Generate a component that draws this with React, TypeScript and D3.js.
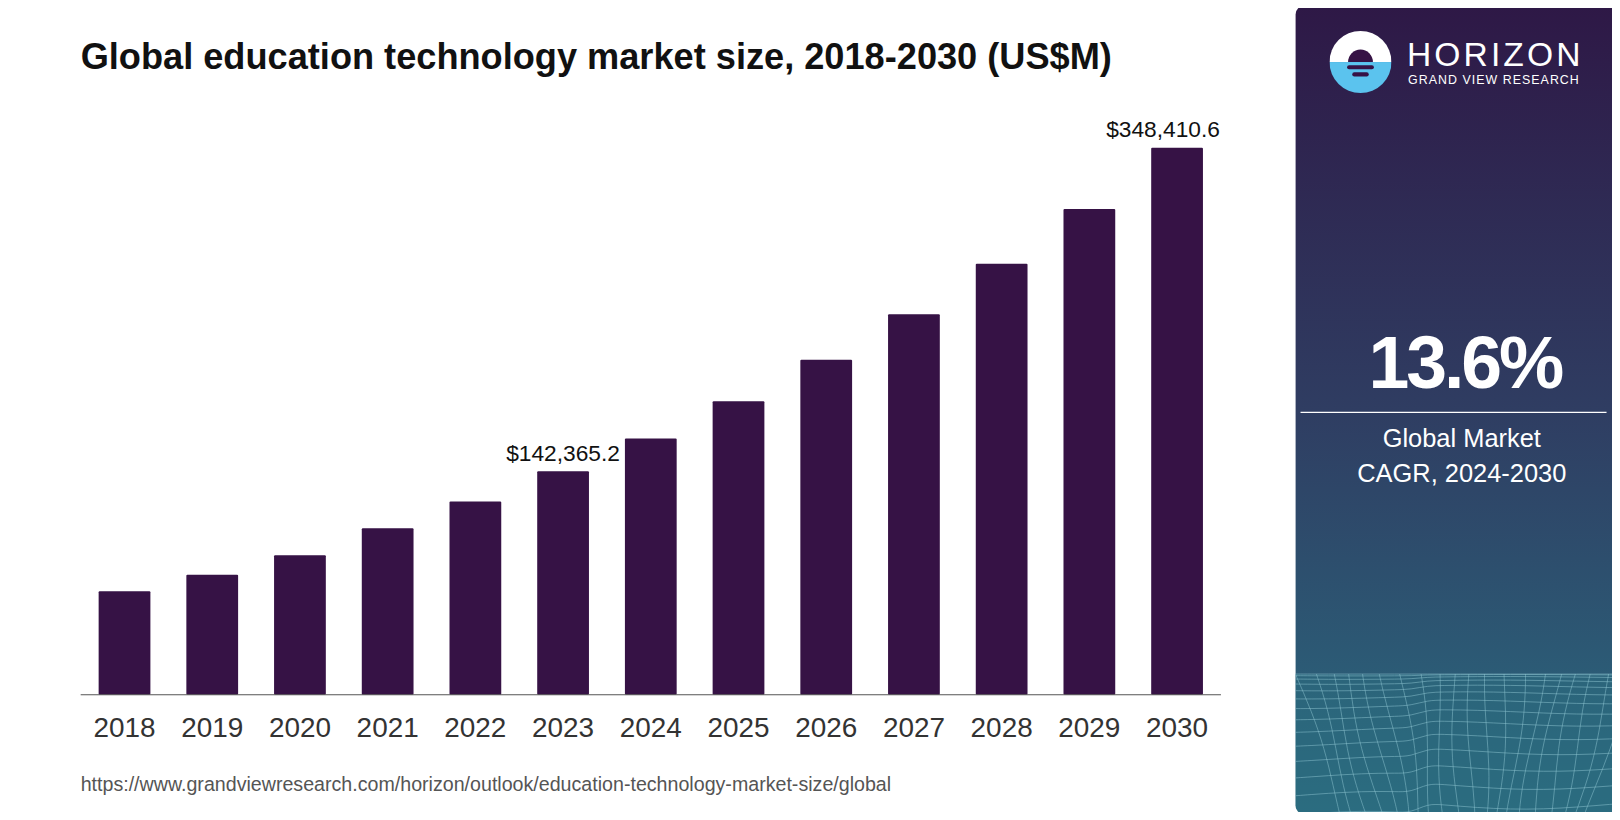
import React from "react";
import * as d3 from "d3";

const years = ["2018","2019","2020","2021","2022","2023","2024","2025","2026","2027","2028","2029","2030"];
const values = [65860, 76400, 88900, 106000, 123150, 142365.2, 163300, 187000, 213400, 242400, 274600, 309500, 348410.6];
const labeled: Record<string, string> = { "2023": "$142,365.2", "2030": "$348,410.6" };

const font = "Liberation Sans, Arial, Helvetica, sans-serif";

export default function App() {
  const x = d3.scaleBand<string>().domain(years).range([78, 1181]).paddingInner(0.41).paddingOuter(0.205);
  const y = d3.scaleLinear().domain([0, 348410.6]).range([672, 143]);
  const meshH: string[] = [];
  const meshV: string[] = [];
  const line = d3.line<[number, number]>().curve(d3.curveBasis);
  for (let i = 0; i < 14; i++) {
    const pts: [number, number][] = [];
    for (let k = 0; k <= 20; k++) {
      const px = 1253 + k * 16;
      const t = i / 13;
      const py = 652 + i * i * 0.75 + Math.sin(k / 3 + i / 4) * 4 * t + (k < 8 ? t * 10 : 0);
      pts.push([px, py]);
    }
    meshH.push(line(pts) || "");
  }
  for (let j = 0; j < 20; j++) {
    const pts: [number, number][] = [];
    for (let k = 0; k <= 8; k++) {
      const py = 652 + k * 18;
      const px = 1253 + j * 17 + Math.sin(k / 2 + j) * 4 - (k * (j - 10)) * 0.6;
      pts.push([px, py]);
    }
    meshV.push(line(pts) || "");
  }
  const [r0, r1] = x.range();
  return (
    <svg width={1620} height={820} viewBox="0 0 1567 793.2" style={{ display: "block", fontFamily: font, margin: -8 }}>
      <defs>
        <linearGradient id="pg" x1="0" y1="0" x2="0" y2="1">
          <stop offset="0" stopColor="#2e1846" />
          <stop offset="0.5" stopColor="#2f3d62" />
          <stop offset="1" stopColor="#2a6b80" />
        </linearGradient>
        <clipPath id="pc"><rect x={1253} y={6} width={314} height={781} rx={8} /></clipPath>
        <clipPath id="lc"><circle cx={1316} cy={60} r={30} /></clipPath>
      </defs>
      <rect x={1} y={1} width={1565} height={790} rx={10} fill="#fff" stroke="#d4d4d4" strokeWidth={1.2} />
      <text x={78} y={67} fontSize={35} fontWeight="bold" fill="#111">Global education technology market size, 2018-2030 (US$M)</text>
      {years.map((yr, i) => {
        const cx = (x(yr) as number) + x.bandwidth() / 2;
        const lx = Math.min(cx, r1 - 56);
        return (
          <g key={yr}>
            <rect x={x(yr)} y={y(values[i])} width={x.bandwidth()} height={672 - y(values[i])} fill="#361245" rx={1} />
            <text x={cx} y={713} textAnchor="middle" fontSize={27} fill="#333">{yr}</text>
            {labeled[yr] && (
              <text x={lx} y={y(values[i]) - 10} textAnchor="middle" fontSize={22} fill="#111">{labeled[yr]}</text>
            )}
          </g>
        );
      })}
      <line x1={r0} x2={r1} y1={672} y2={672} stroke="#555" strokeWidth={1} />
      <text x={78} y={765} fontSize={19} fill="#555">https://www.grandviewresearch.com/horizon/outlook/education-technology-market-size/global</text>
      <g clipPath="url(#pc)">
        <rect x={1253} y={6} width={314} height={781} fill="url(#pg)" />
        <rect x={1253} y={652} width={314} height={135} fill="#2c6d80" opacity={0.5} />
        {meshH.map((d, i) => <path key={"h" + i} d={d} fill="none" stroke="#8fc6d2" strokeWidth={0.8} opacity={0.6} />)}
        {meshV.map((d, i) => <path key={"v" + i} d={d} fill="none" stroke="#8fc6d2" strokeWidth={0.8} opacity={0.6} />)}
      </g>
      <g clipPath="url(#lc)">
        <rect x={1286} y={30} width={60} height={30} fill="#fff" />
        <rect x={1286} y={60} width={60} height={30} fill="#5bc3ee" />
      </g>
      <path d="M1304,60 A12,12 0 0 1 1328,60 Z" fill="#361245" />
      <rect x={1303} y={63} width={26} height={4} rx={2} fill="#361245" />
      <rect x={1308} y={70} width={16} height={4} rx={2} fill="#361245" />
      <text x={1361} y={64} fontSize={32.5} fill="#fff" letterSpacing={3}>HORIZON</text>
      <text x={1362} y={81} fontSize={12} fill="#fff" letterSpacing={1}>GRAND VIEW RESEARCH</text>
      <text x={1417} y={375} textAnchor="middle" fontSize={71} fontWeight="bold" fill="#fff" letterSpacing={-3}>13.6%</text>
      <line x1={1258} x2={1554} y1={399} y2={399} stroke="#fff" strokeWidth={1.2} />
      <text x={1414} y={432} textAnchor="middle" fontSize={24.6} fill="#fff">Global Market</text>
      <text x={1414} y={466} textAnchor="middle" fontSize={24.6} fill="#fff">CAGR, 2024-2030</text>
    </svg>
  );
}
